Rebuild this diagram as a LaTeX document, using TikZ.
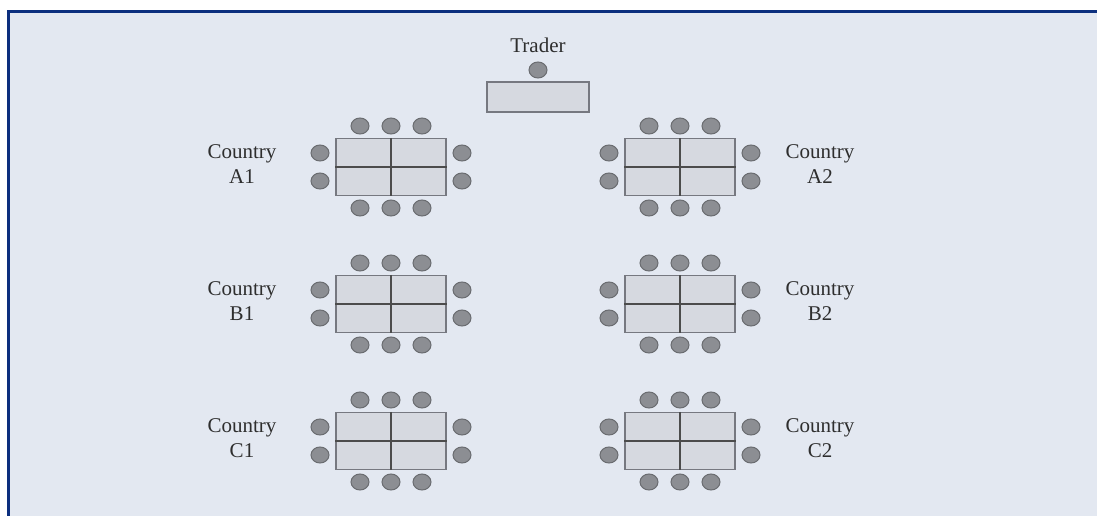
\documentclass[tikz,border=0pt]{standalone}
\usepackage{fontspec}
\setmainfont{Liberation Serif}
\usetikzlibrary{shapes.geometric}

\definecolor{panelbg}{HTML}{E3E8F1}
\definecolor{frameblue}{HTML}{0C2F7E}
\definecolor{tablefill}{HTML}{D6D9E0}
\definecolor{tableedge}{HTML}{767880}
\definecolor{seatfill}{HTML}{8C8E93}
\definecolor{seatedge}{HTML}{6A6C70}
\definecolor{labeltext}{HTML}{2E2E2E}

\tikzset{
  tablebox/.style={draw=tableedge, fill=tablefill, line width=1.3pt,
    minimum width=110pt, minimum height=57pt, inner sep=0pt},
  traderdesk/.style={draw=tableedge, fill=tablefill, line width=1.3pt,
    minimum width=102pt, minimum height=30pt, inner sep=0pt},
  divider/.style={draw=black!70, line width=1.4pt},
  chair/.style={ellipse, draw=seatedge, fill=seatfill, line width=1pt,
    minimum width=18pt, minimum height=16pt, inner sep=0pt},
  countrylabel/.style={align=center, text=labeltext,
    font=\fontsize{21}{25}\selectfont, inner sep=0pt},
}

% one negotiating table with its ten seats: name, centre x, centre y
\newcommand\meetingtable[3]{%
  \node[tablebox] (#1) at (#2,#3) {};
  \draw[divider] (#1.north) -- (#1.south);
  \draw[divider] (#1.west) -- (#1.east);
  \foreach \dx [count=\i] in {-31,0,31} {
    \node[chair] (#1-t\i) at (#2+\dx,#3-41) {};
    \node[chair] (#1-b\i) at (#2+\dx,#3+41) {};
  }
  \node[chair] (#1-l1) at (#2-71,#3-14) {};
  \node[chair] (#1-l2) at (#2-71,#3+14) {};
  \node[chair] (#1-r1) at (#2+71,#3-14) {};
  \node[chair] (#1-r2) at (#2+71,#3+14) {};
}

\begin{document}
\begin{tikzpicture}[x=1pt,y=-1pt]
  \useasboundingbox (0,0) rectangle (1097,516);
  % panel with its frame on the top and left
  \fill[white] (0,0) rectangle (1097,516);
  \fill[panelbg] (8.7,11.3) rectangle (1097,516);
  \draw[frameblue, line width=3pt] (8.7,516) -- (8.7,11.3) -- (1097,11.3);

  % trader
  \node[countrylabel] (traderlabel) at (538,45) {Trader};
  \node[chair] (traderseat) at (538,70) {};
  \node[traderdesk] (traderdesk) at (538,97) {};

  % country tables
  \meetingtable{A1}{391}{167}
  \meetingtable{A2}{680}{167}
  \meetingtable{B1}{391}{304}
  \meetingtable{B2}{680}{304}
  \meetingtable{C1}{391}{441}
  \meetingtable{C2}{680}{441}

  % country names
  \node[countrylabel] (labA1) at (242,164) {Country\\A1};
  \node[countrylabel] (labA2) at (820,164) {Country\\A2};
  \node[countrylabel] (labB1) at (242,301) {Country\\B1};
  \node[countrylabel] (labB2) at (820,301) {Country\\B2};
  \node[countrylabel] (labC1) at (242,438) {Country\\C1};
  \node[countrylabel] (labC2) at (820,438) {Country\\C2};
\end{tikzpicture}
\end{document}
